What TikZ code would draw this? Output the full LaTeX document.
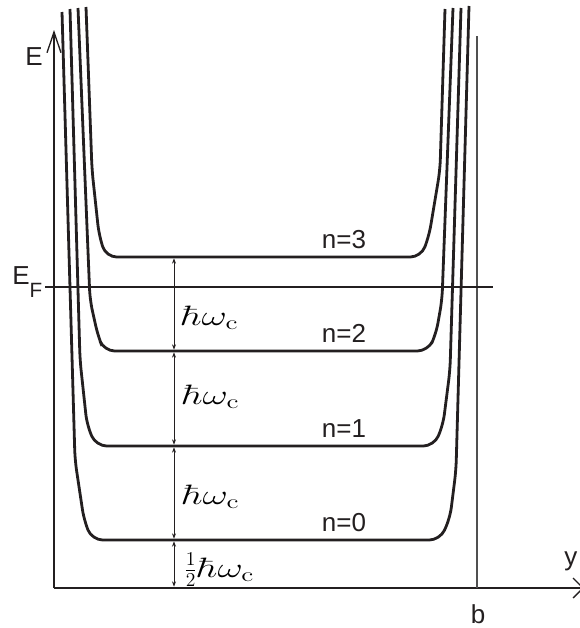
\RequirePackage{fix-cm}
\documentclass[tikz,border=0pt]{standalone}
\usepackage[no-math]{fontspec}
\setmainfont{Liberation Sans}
\usepackage{graphicx}
\usetikzlibrary{arrows.meta}
\definecolor{curveblack}{RGB}{35, 31, 32}
\definecolor{wallgray}{RGB}{80, 80, 80}

\begin{document}
\begin{tikzpicture}[
    x=0.75pt, y=-0.75pt,
    landau/.style={draw=curveblack, line width=2.1pt, rounded corners=8pt},
    axis/.style={draw=curveblack, line width=1pt},
    fermi/.style={draw=curveblack, line width=1.7pt},
    wall/.style={draw=wallgray, line width=0.8pt},
    gap/.style={{Stealth[length=4pt,width=3pt]}-{Stealth[length=4pt,width=3pt]},
        curveblack, line width=0.6pt, shorten <=1pt, shorten >=1pt},
    letter/.style={font=\fontsize{19.5}{22}\selectfont, inner sep=0pt, text=curveblack},
    gaplabel/.style={font=\fontsize{21}{24}\selectfont, inner sep=0pt, anchor=west}
]
\useasboundingbox (0,0) rectangle (579,628);

% AXES
\draw[axis, -{Straight Barb[length=15.5pt,width=10.5pt]}] (54,588) -- (54,30);
\draw[axis, -{Straight Barb[length=7.5pt,width=15pt]}] (54,588) -- (584,588);
\draw[wall] (477,588) -- (477,36);

\node[letter, anchor=base west] (lblE) at (25,65) {E};
\node[letter, anchor=base west] (lbly) at (564,565) {y};
\node[letter, anchor=base] (lblb) at (478,623) {b};

% LANDAU LEVELS
\draw[landau] (86,7) -- (92,170) -- (99,235) -- (106,257) -- (421,257) -- (429,236) -- (440,170) -- (445,9);
\draw[landau] (78,8) -- (90,300) -- (98,336) -- (104,351) -- (428,351) -- (436,334) -- (442,300) -- (453,8);
\draw[landau] (70,9) -- (80,360) -- (87,425) -- (96,446) -- (434,446) -- (443,425) -- (450,370) -- (461,8);
\draw[landau] (62,12) -- (75,460) -- (84,520) -- (92,540) -- (440,540) -- (450,518) -- (456,470) -- (469,6);

\node[letter, anchor=base] (lbln3) at (344,248) {n=3};
\node[letter, anchor=base] (lbln2) at (344,342) {n=2};
\node[letter, anchor=base] (lbln1) at (344,437) {n=1};
\node[letter, anchor=base] (lbln0) at (344,531) {n=0};

% FERMI LEVEL
\draw[fermi] (45,287) -- (493,287);
\node[letter, anchor=base west] (lblEF) at (12,284)
    {E\raisebox{-9.75pt}{\fontsize{15.5}{18}\selectfont F}};

% LEVEL SPACINGS
\coordinate (lev3) at (174,257);
\coordinate (lev2) at (174,351);
\coordinate (lev1) at (174,446);
\coordinate (lev0) at (174,540);
\coordinate (bottom) at (174,588);

\draw[gap] (lev3) -- (lev2);
\draw[gap] (lev2) -- (lev1);
\draw[gap] (lev1) -- (lev0);
\draw[gap] (lev0) -- (bottom);

\node[gaplabel] (gap1) at (181,318) {\scalebox{1.4}[1]{$\hbar\omega_{\mathrm{c}}$}};
\node[gaplabel] (gap2) at (182,397) {\scalebox{1.4}[1]{$\hbar\omega_{\mathrm{c}}$}};
\node[gaplabel] (gap3) at (182,497) {\scalebox{1.4}[1]{$\hbar\omega_{\mathrm{c}}$}};
\node[gaplabel] (gap4) at (184,570) {${\textstyle\frac{1}{2}}$\scalebox{1.4}[1]{$\hbar\omega_{\mathrm{c}}$}};

\end{tikzpicture}
\end{document}
